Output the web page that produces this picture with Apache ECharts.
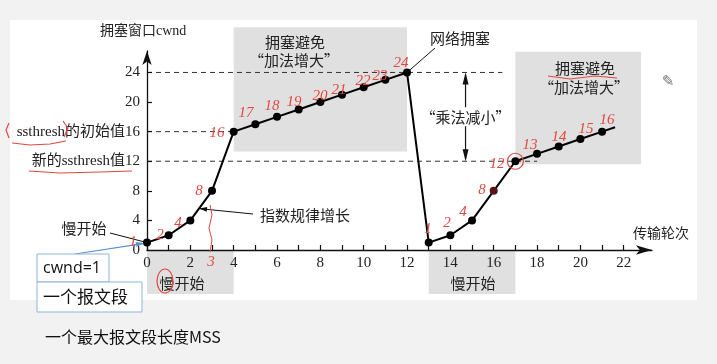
<!DOCTYPE html>
<html><head><meta charset="utf-8">
<script src="https://cdn.jsdelivr.net/npm/echarts@6/dist/echarts.min.js"></script>
<style>html,body{margin:0;padding:0;background:#f2f2f2;}#c{width:717px;height:364px;}</style>
</head><body><div id="c"></div>
<script>
// ---- data ----
const rounds = [0,1,2,3,4,5,6,7,8,9,10,11,12,13,14,15,16,17,18,19,20,21];
const cwnd   = [1,2,4,8,16,17,18,19,20,21,22,23,24,1,2,4,8,12,13,14,15,16];
const tailRounds = [21, 21.6];
const tailCwnd   = [16, 16.6];
const xTickValues  = [0,1,2,3,4,5,6,7,8,9,10,11,12,13,14,15,16,17,18,19,20,21,22];
const xLabelValues = [0,2,4,6,8,10,12,14,16,18,20,22];
const yLabelValues = [0,4,8,12,16,20,24];
const ssthreshInit = 16;
const ssthreshNew = 12;
const peakCwnd = 24;
const lossRound = 12;
const slowStart1 = [0, 4];
const slowStart2 = [13, 17];
const avoid1 = [4, 12];
const avoid2 = [17, 22.8];
const redNotes = ['1','2','4','8','16','17','18','19','20','21','22','23','24','1','2','4','8','12','13','14','15','16','3'];

// ---- chart ----
const serif = '"Liberation Serif","Noto Sans CJK SC",serif';
const cjk = '"Noto Sans CJK SC",sans-serif';
const chart = echarts.init(document.getElementById('c'));
const X_MAX = 23.3, Y_MAX = 26.9;
const axisCol = '#111';
chart.setOption({
  animation: false,
  grid: {left: 147, right: 65.1, top: 51, bottom: 114},
  xAxis: {
    type: 'value', min: 0, max: X_MAX, z: 3,
    axisLine: {show: true, symbol: ['none','arrow'], symbolSize: [7,16], lineStyle: {color: axisCol, width: 1.3}},
    axisTick: {show: true, inside: true, length: 5, customValues: xTickValues, lineStyle: {color: axisCol, width: 1.2}},
    axisLabel: {customValues: xLabelValues, margin: 6, fontFamily: serif, fontSize: 15, color: '#222'},
    splitLine: {show: false}
  },
  yAxis: {
    type: 'value', min: 0, max: Y_MAX, z: 3,
    axisLine: {show: true, symbol: ['none','arrow'], symbolSize: [7,14], lineStyle: {color: axisCol, width: 1.3}},
    axisTick: {show: true, inside: true, length: 5, customValues: yLabelValues.slice(1), lineStyle: {color: axisCol, width: 1.2}},
    axisLabel: {customValues: yLabelValues, margin: 7, fontFamily: serif, fontSize: 15, color: '#222',
      formatter: v => v === ssthreshInit ? 'ssthresh的初始值' + v : (v === ssthreshNew ? '新的ssthresh值' + v : '' + v)},
    splitLine: {show: false}
  },
  series: [
    {type: 'line', z: 4, symbol: 'circle', symbolSize: 8, color: '#000',
     lineStyle: {color: '#000', width: 2}, itemStyle: {color: '#000'},
     data: rounds.map((r, i) => (r === 16 ? {value: [r, cwnd[i]], itemStyle: {color: '#5a1414'}} : [r, cwnd[i]]))},
    {type: 'line', z: 4, symbol: 'none', lineStyle: {color: '#000', width: 2},
     data: tailRounds.map((r, i) => [r, tailCwnd[i]])}
  ]
});

const P = (x, y) => chart.convertToPixel({gridIndex: 0}, [x, y]);
const g = [];
const red = '#e2483f';
function text(t, x, y, font, fill, align, z) {
  g.push({type: 'text', x: x, y: y, z: z || 10, style: {text: t, font: font, fill: fill || '#222', align: align || 'center', verticalAlign: 'middle'}});
}
function line(x1, y1, x2, y2, stroke, w, dash, z) {
  g.push({type: 'line', z: z || 2, shape: {x1, y1, x2, y2}, style: {stroke: stroke || '#111', lineWidth: w || 1, lineDash: dash || null}});
}
function arrowHead(tx, ty, fx, fy, len, wid, fill, z) {
  const a = Math.atan2(ty - fy, tx - fx);
  const bx = tx - len * Math.cos(a), by = ty - len * Math.sin(a);
  const nx = -Math.sin(a) * wid / 2, ny = Math.cos(a) * wid / 2;
  g.push({type: 'polygon', z: z || 6, shape: {points: [[tx, ty], [bx + nx, by + ny], [bx - nx, by - ny]]}, style: {fill: fill || '#111'}});
}
function rect(x, y, w, h, fill, stroke, z) {
  g.push({type: 'rect', z: z || 1, shape: {x, y, width: w, height: h}, style: {fill: fill, stroke: stroke || null, lineWidth: 1}});
}

// white slide area
rect(10, 20, 687, 280, '#ffffff', null, 0);

// gray boxes
const gray = '#e0e0e0';
const o = P(0, 0);
{
  const a = P(avoid1[0], 13.3), b = P(avoid1[1], 30.1);
  rect(a[0], b[1], b[0] - a[0], a[1] - b[1], gray);
  const c = P(avoid2[0], 11.6), d = P(avoid2[1], 26.8);
  rect(c[0], d[1], d[0] - c[0], c[1] - d[1], gray);
  const s1 = P(slowStart1[0], 0), s2 = P(slowStart1[1], 0);
  rect(s1[0], o[1] + 1, s2[0] - s1[0], 43, gray);
  const t1 = P(slowStart2[0], 0), t2 = P(slowStart2[1], 0);
  rect(t1[0], o[1] + 1, t2[0] - t1[0], 43, gray);
}

// dashed threshold lines
{
  const a = P(0, peakCwnd), b = P(16.4, peakCwnd);
  line(a[0], a[1], b[0], b[1], '#333', 1, [5, 4]);
  const c = P(0, ssthreshInit), d = P(4, ssthreshInit);
  line(c[0], c[1], d[0], d[1], '#333', 1, [5, 4]);
  const e = P(0, ssthreshNew), f = P(18.0, ssthreshNew);
  line(e[0], e[1], f[0], f[1], '#333', 1, [5, 4]);
}

// multiplicative decrease double arrow
{
  const top = P(14.7, peakCwnd), bot = P(14.7, ssthreshNew);
  line(top[0], top[1] + 2, bot[0], bot[1] - 2, '#111', 1.2);
  arrowHead(top[0], top[1], top[0], top[1] + 10, 12, 6);
  arrowHead(bot[0], bot[1], bot[0], bot[1] - 10, 12, 6);
  g.push({type: 'text', x: top[0], y: (top[1] + bot[1]) / 2, z: 10,
    style: {text: '\u201c乘法减小\u201d', font: '15px ' + cjk, fill: '#222', align: 'center', verticalAlign: 'middle', backgroundColor: '#fff', padding: [2, 0]}});
}

// texts
text('拥塞窗口cwnd', 100, 31, '14px ' + serif, '#222', 'left');
text('拥塞避免', 295, 42, '15px ' + cjk);
text('\u201c加法增大\u201d', 294, 60, '15px ' + cjk);
text('网络拥塞', 460, 38, '15px ' + cjk);
text('拥塞避免', 585, 68, '15px ' + cjk);
text('\u201c加法增大\u201d', 584, 87, '15px ' + cjk);
text('传输轮次', 661, 233, '14px ' + cjk);
text('指数规律增长', 305, 215, '15px ' + cjk);
text('慢开始', 84, 228, '15px ' + cjk);
text('慢开始', 182, 283, '15px ' + cjk);
text('慢开始', 473, 283, '15px ' + cjk);

// leaders
{
  const pk = P(lossRound, peakCwnd);
  line(435, 48, pk[0], pk[1], '#111', 1, null, 6);
  const p0 = P(0, cwnd[0]);
  line(110, 233, p0[0], p0[1], '#111', 1, null, 6);
  const pe = P(2.4, 5.6);
  line(253, 214, pe[0], pe[1], '#111', 1, null, 6);
  arrowHead(pe[0], pe[1], 253, 214, 8, 5);
  // blue arrow from box
  line(75, 254, p0[0] - 4, p0[1] + 1, '#5b8fd0', 1.2, null, 6);
  arrowHead(p0[0] - 3, p0[1] + 0.5, 75, 254, 8, 5, '#5b8fd0');
}

// blue boxes & bottom note
rect(37, 254, 72, 28, '#fff', '#8fb3dc', 7);
rect(37, 282, 105, 30, '#fff', '#8fb3dc', 7);
text('cwnd=1', 43, 268, '16px "Open Sans",sans-serif', '#111', 'left');
text('一个报文段', 43, 297, '17px ' + cjk, '#111', 'left');
text('一个最大报文段长度MSS', 45, 337, '16px ' + cjk, '#111', 'left');

// pencil
text('\u270e', 668, 82, '15px "DejaVu Sans"', '#777');

// red handwritten annotations
const redPos = [[133,242],[160,235],[178,223],[199,191],[217,133],[246,113],[272,106],[294,102],[320,96],[339,90],[363,81],[380,76],[401,63],
                [428,229],[447,223],[463,212],[482,190],[497,164],[530,145],[559,137],[586,129],[607,120],[211,262]];
redNotes.forEach((t, i) => text(t, redPos[i][0], redPos[i][1], 'italic 15px "Liberation Serif"', red, 'center', 12));
// red marks
g.push({type: 'ellipse', z: 12, shape: {cx: P(17, 12)[0], cy: P(17, 12)[1], rx: 8, ry: 8}, style: {stroke: red, fill: null, lineWidth: 1.2}});
g.push({type: 'ellipse', z: 12, shape: {cx: 165, cy: 281, rx: 8, ry: 12}, style: {stroke: red, fill: null, lineWidth: 1.2}});
g.push({type: 'polyline', z: 12, shape: {points: [[210,205],[212,215],[209,228],[212,240],[210,252]]}, style: {stroke: red, fill: null, lineWidth: 1}});
g.push({type: 'polyline', z: 12, shape: {points: [[12,143],[30,145],[50,144],[66,141]]}, style: {stroke: red, fill: null, lineWidth: 1.2}});
g.push({type: 'polyline', z: 12, shape: {points: [[9,123],[6,130],[9,138]]}, style: {stroke: red, fill: null, lineWidth: 1.2}});
g.push({type: 'polyline', z: 12, shape: {points: [[63,121],[68,128],[64,137]]}, style: {stroke: red, fill: null, lineWidth: 1.2}});
g.push({type: 'polyline', z: 12, shape: {points: [[29,171],[60,173],[100,172],[132,171]]}, style: {stroke: red, fill: null, lineWidth: 1.2}});
g.push({type: 'polyline', z: 12, shape: {points: [[548,76],[570,79],[595,76],[617,78]]}, style: {stroke: red, fill: null, lineWidth: 1.2}});

chart.setOption({graphic: g});
</script></body></html>
